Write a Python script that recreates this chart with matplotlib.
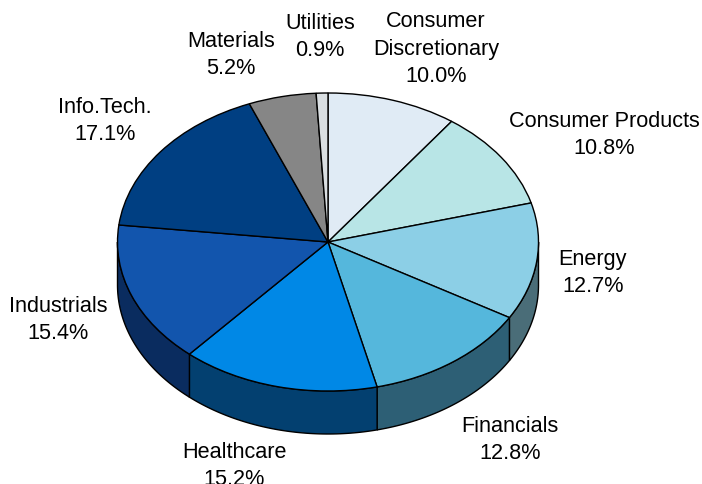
import numpy as np
import matplotlib
matplotlib.use('Agg')
import matplotlib.pyplot as plt

plt.rcParams['font.family'] = ['Liberation Sans', 'DejaVu Sans']

sectors = ['Consumer\nDiscretionary', 'Consumer Products', 'Energy', 'Financials',
           'Healthcare', 'Industrials', 'Info.Tech.', 'Materials', 'Utilities']
shares = [10.0, 10.8, 12.7, 12.8, 15.2, 15.4, 17.1, 5.2, 0.9]
top_colors = ['#e0ebf5', '#b8e5e6', '#8ccfe6', '#55b7dc', '#0088e6',
              '#1255ad', '#003f82', '#868686', '#dadfe2']
side_colors = ['#70767b', '#5c7273', '#4a6d78', '#2d5f75', '#034070',
               '#0a2c5f', '#002041', '#434343', '#6c7272']
# label centres in pixels of the reference
label_px = [(436, 49), (604, 135), (593, 273), (510, 440), (234, 466),
            (58, 320), (105, 121), (231, 55), (320, 37)]

W, H = 702, 484
cx, cy, rx, ry, depth = 328, 242, 210.5, 149, 43

fig = plt.figure(figsize=(W / 100, H / 100), dpi=100)
ax = fig.add_axes([0, 0, 1, 1])

# the pie has radius 1, unequal axis scales make it an ellipse
wedges, _ = ax.pie(shares, colors=top_colors, startangle=90, counterclock=False,
                   wedgeprops={'edgecolor': 'black', 'linewidth': 1.0, 'zorder': 3})
ax.set_aspect('auto')
ax.set_xlim(-cx / rx, (W - cx) / rx)
ax.set_ylim((cy - H) / ry, cy / ry)
ax.axis('off')

# side wall, only the front half (180 to 360 degrees) can be seen
d = depth / ry
fracs = np.array(shares) / sum(shares)
ends = 90 - 360 * np.cumsum(fracs)
starts = np.r_[90, ends[:-1]]
for a1, a0, col in zip(starts, ends, side_colors):
    lo, hi = max(a0, -180), min(a1, 0)
    if lo >= hi:
        continue
    t = np.radians(np.linspace(lo, hi, 60))
    xs = np.cos(t)
    ys = np.sin(t)
    ax.fill(np.r_[xs, xs[::-1]], np.r_[ys, ys[::-1] - d], facecolor=col,
            edgecolor='black', linewidth=1.0, zorder=2)

for name, share, (px, py) in zip(sectors, shares, label_px):
    ax.text((px - cx) / rx, (cy - py) / ry, f'{name}\n{share:.1f}%', ha='center', va='center',
            fontsize=15.6, color='black', linespacing=1.42, zorder=5)

fig.savefig('out.png', dpi=100)
